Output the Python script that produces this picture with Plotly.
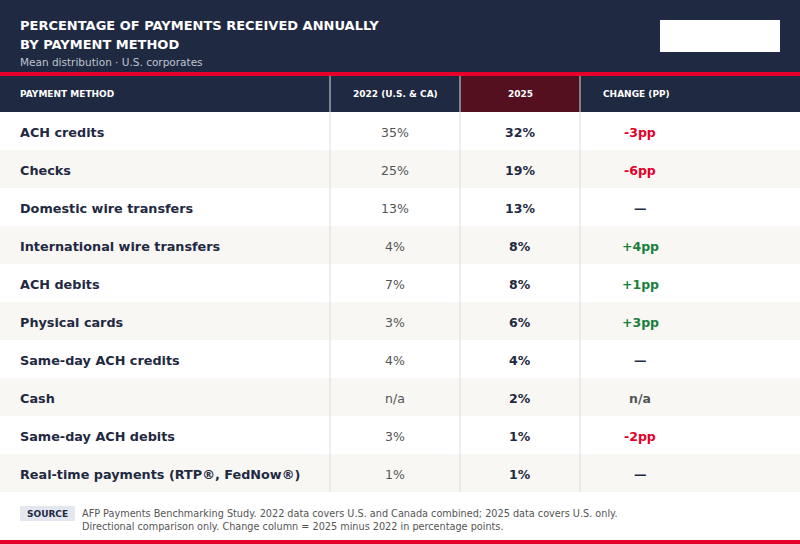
import plotly.graph_objects as go

NAVY = '#1f2942'
RED = '#e4002b'
MAROON = '#54101f'

rows = [
    ('ACH credits', '35%', '32%', '-3pp'),
    ('Checks', '25%', '19%', '-6pp'),
    ('Domestic wire transfers', '13%', '13%', '—'),
    ('International wire transfers', '4%', '8%', '+4pp'),
    ('ACH debits', '7%', '8%', '+1pp'),
    ('Physical cards', '3%', '6%', '+3pp'),
    ('Same-day ACH credits', '4%', '4%', '—'),
    ('Cash', 'n/a', '2%', 'n/a'),
    ('Same-day ACH debits', '3%', '1%', '-2pp'),
    ('Real-time payments (RTP®, FedNow®)', '1%', '1%', '—'),
]

def change_color(c):
    if c.startswith('-'):
        return RED
    if c.startswith('+'):
        return '#1a7f3c'
    if c == 'n/a':
        return '#555555'
    return NAVY

fig = go.Figure()
shapes = []
ann = []

def rect(x0, y0, x1, y1, color):
    shapes.append(dict(type='rect', x0=x0, x1=x1, y0=y0, y1=y1, fillcolor=color, line_width=0, layer='below'))

def text(x, y, s, size, color, anchor='left', bold=False, family='DejaVu Sans'):
    if bold:
        s = '<b>' + s + '</b>'
    if anchor == 'left':
        x -= 2  # annotation padding
    ann.append(dict(x=x, y=y, text=s, showarrow=False, xanchor=anchor, yanchor='middle',
                    font=dict(size=size, color=color, family=family)))

# title band
rect(0, 0, 800, 72, NAVY)
rect(0, 72, 800, 76, RED)
rect(660, 20, 780, 52, 'white')
text(20, 25, 'PERCENTAGE OF PAYMENTS RECEIVED ANNUALLY', 13, 'white', bold=True)
text(20, 44, 'BY PAYMENT METHOD', 13, 'white', bold=True)
text(20, 62, 'Mean distribution · U.S. corporates', 10.5, '#c0c4cf')

# header row
rect(0, 76, 800, 112, NAVY)
rect(461, 76, 580, 112, MAROON)
text(20, 94, 'PAYMENT METHOD', 9, 'white', bold=True)
text(395, 94, '2022 (U.S. &amp; CA)', 9, 'white', anchor='center', bold=True)
text(520, 94, '2025', 9, 'white', anchor='center', bold=True)
text(603, 94, 'CHANGE (PP)', 9, 'white', bold=True)

row_h = 38
top = 112
for i, (name, v22, v25, ch) in enumerate(rows):
    y0 = top + i * row_h
    rect(0, y0, 800, y0 + row_h, 'white' if i % 2 == 0 else '#f8f7f4')
    yc = y0 + row_h / 2 + 1
    text(20, yc, name, 12.8, NAVY, bold=True)
    text(395, yc, v22, 12.5, '#555555', anchor='center')
    text(520, yc, v25, 12.5, NAVY, anchor='center', bold=True)
    text(640, yc, ch, 12.5, change_color(ch), anchor='center', bold=True)

bottom = top + len(rows) * row_h
for x in (330, 460, 580):
    shapes.append(dict(type='line', x0=x, x1=x, y0=76, y1=bottom, line=dict(color='#dddddd', width=1)))

# footer
rect(20, 506, 75, 521, '#e3e7ef')
text(47.5, 514, 'SOURCE', 9, NAVY, anchor='center', bold=True)
text(82, 513, 'AFP Payments Benchmarking Study. 2022 data covers U.S. and Canada combined; 2025 data covers U.S. only.', 9.7, '#555555')
text(82, 526, 'Directional comparison only. Change column = 2025 minus 2022 in percentage points.', 9.7, '#555555')
rect(0, 540, 800, 544, RED)

fig.update_layout(
    width=800, height=544, margin=dict(l=0, r=0, t=0, b=0),
    paper_bgcolor='white', plot_bgcolor='white',
    xaxis=dict(range=[0, 800], visible=False, fixedrange=True),
    yaxis=dict(range=[544, 0], visible=False, fixedrange=True),
    shapes=shapes, annotations=ann, showlegend=False,
)
fig.write_html("out.html", config={'displayModeBar': False})

# drop the default page margin so the figure sits at 0,0
with open("out.html") as f:
    page = f.read()
page = page.replace('<head>', '<head><style>body{margin:0;overflow:hidden}</style>', 1)
with open("out.html", "w") as f:
    f.write(page)
